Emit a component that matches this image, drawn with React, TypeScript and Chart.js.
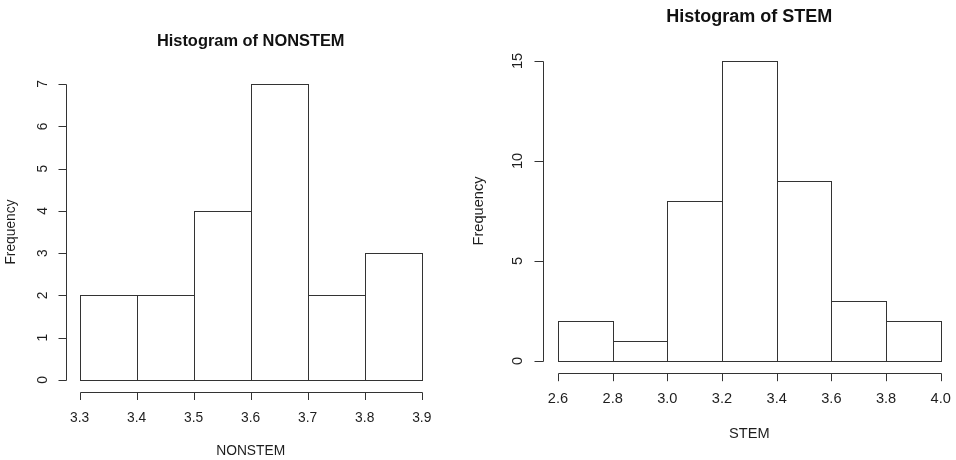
import React, { useEffect, useRef } from 'react';
import { Chart, registerables } from 'chart.js';

Chart.register(...registerables);

const FONT = '"Liberation Sans", Arial, Helvetica, sans-serif';
const LINE = '#333333';
const TEXT = '#1e1e1e';

// ---- NONSTEM histogram ----
const nonstemBreaks = [3.3, 3.4, 3.5, 3.6, 3.7, 3.8, 3.9];
const nonstemCounts = [2, 2, 4, 7, 2, 3];
const nonstemXLabels = ['3.3', '3.4', '3.5', '3.6', '3.7', '3.8', '3.9'];
const nonstemYTicks = [0, 1, 2, 3, 4, 5, 6, 7];
const nonstemYLabels = ['0', '1', '2', '3', '4', '5', '6', '7'];

// ---- STEM histogram ----
const stemBreaks = [2.6, 2.8, 3.0, 3.2, 3.4, 3.6, 3.8, 4.0];
const stemCounts = [2, 1, 8, 15, 9, 3, 2];
const stemXLabels = ['2.6', '2.8', '3.0', '3.2', '3.4', '3.6', '3.8', '4.0'];
const stemYTicks = [0, 5, 10, 15];
const stemYLabels = ['0', '5', '10', '15'];

type PanelCfg = {
  left: number;
  width: number;
  padding: { left: number; right: number; top: number; bottom: number };
  title: string;
  xTitle: string;
  yTitle: string;
  breaks: number[];
  counts: number[];
  xLabels: string[];
  yTicks: number[];
  yLabels: string[];
  fontSize: number;
  titleSize: number;
  titleBaseline: number;
  xTickLen: number;
  xLabelGap: number;
  xTitleGap: number;
  yTickLen: number;
  yLabelGap: number;
  yTitleGap: number;
};

const rStylePlugin = {
  id: 'rStyle',
  afterDatasetsDraw(chart: any) {
    const { ctx } = chart;
    ctx.save();
    ctx.strokeStyle = LINE;
    ctx.lineWidth = 1;
    const meta = chart.getDatasetMeta(0);
    meta.data.forEach((bar: any) => {
      const { x, y, base, width } = bar.getProps(['x', 'y', 'base', 'width'], true);
      const l = Math.round(x - width / 2) + 0.5;
      const r = Math.round(x + width / 2) + 0.5;
      const t = Math.round(y) + 0.5;
      const b = Math.round(base) + 0.5;
      ctx.strokeRect(l, t, r - l, b - t);
    });
    ctx.restore();
  },
  afterDraw(chart: any, _args: any, o: any) {
    const { ctx, chartArea: a } = chart;
    const xs = chart.scales.x;
    const ys = chart.scales.y;
    ctx.save();
    ctx.strokeStyle = LINE;
    ctx.lineWidth = 1;
    ctx.fillStyle = TEXT;

    // x axis
    const ax = Math.round(a.bottom) + 0.5;
    const xPix = o.breaks.map((v: number) => Math.round(xs.getPixelForValue(v)) + 0.5);
    ctx.beginPath();
    ctx.moveTo(xPix[0], ax);
    ctx.lineTo(xPix[xPix.length - 1], ax);
    xPix.forEach((p: number) => {
      ctx.moveTo(p, ax);
      ctx.lineTo(p, ax + o.xTickLen);
    });
    ctx.stroke();
    ctx.font = `${o.fontSize}px ${FONT}`;
    ctx.textAlign = 'center';
    ctx.textBaseline = 'alphabetic';
    o.xLabels.forEach((lab: string, i: number) => {
      ctx.fillText(lab, xs.getPixelForValue(o.breaks[i]), a.bottom + o.xLabelGap);
    });

    // y axis
    const ay = Math.round(a.left) + 0.5;
    const yPix = o.yTicks.map((v: number) => Math.round(ys.getPixelForValue(v)) + 0.5);
    ctx.beginPath();
    ctx.moveTo(ay, yPix[0]);
    ctx.lineTo(ay, yPix[yPix.length - 1]);
    yPix.forEach((p: number) => {
      ctx.moveTo(ay, p);
      ctx.lineTo(ay - o.yTickLen, p);
    });
    ctx.stroke();
    o.yLabels.forEach((lab: string, i: number) => {
      ctx.save();
      ctx.translate(a.left - o.yLabelGap, ys.getPixelForValue(o.yTicks[i]));
      ctx.rotate(-Math.PI / 2);
      ctx.fillText(lab, 0, 0);
      ctx.restore();
    });

    // axis titles
    ctx.fillText(o.xTitle, (a.left + a.right) / 2, a.bottom + o.xTitleGap);
    ctx.save();
    ctx.translate(a.left - o.yTitleGap, (a.top + a.bottom) / 2);
    ctx.rotate(-Math.PI / 2);
    ctx.fillText(o.yTitle, 0, 0);
    ctx.restore();

    // main title
    ctx.font = `bold ${o.titleSize}px ${FONT}`;
    ctx.fillStyle = '#111';
    ctx.fillText(o.title, (a.left + a.right) / 2, o.titleBaseline);
    ctx.restore();
  },
};

function HistPanel({ cfg }: { cfg: PanelCfg }) {
  const ref = useRef<HTMLCanvasElement>(null);
  useEffect(() => {
    const br = cfg.breaks;
    const xr = br[br.length - 1] - br[0];
    const yMax = cfg.yTicks[cfg.yTicks.length - 1];
    const points = cfg.counts.map((c, i) => ({ x: (br[i] + br[i + 1]) / 2, y: c }));
    const chart = new Chart(ref.current as HTMLCanvasElement, {
      type: 'bar',
      data: {
        datasets: [
          {
            data: points as any,
            backgroundColor: '#ffffff',
            borderWidth: 0,
            barPercentage: 1,
            categoryPercentage: 1,
          },
        ],
      },
      options: {
        animation: false,
        responsive: false,
        events: [],
        layout: { padding: cfg.padding },
        plugins: {
          legend: { display: false },
          tooltip: { enabled: false },
          title: { display: false },
          rStyle: cfg as any,
        } as any,
        scales: {
          x: {
            type: 'linear',
            display: false,
            offset: false,
            min: br[0] - 0.04 * xr,
            max: br[br.length - 1] + 0.04 * xr,
            afterBuildTicks: (s: any) => {
              s.ticks = br.map((v) => ({ value: v }));
            },
          },
          y: {
            type: 'linear',
            display: false,
            min: -0.04 * yMax,
            max: yMax * 1.04,
          },
        },
      },
      plugins: [rStylePlugin as any],
    });
    return () => chart.destroy();
  }, [cfg]);
  return (
    <canvas
      ref={ref}
      width={cfg.width}
      height={460}
      style={{ position: 'absolute', left: cfg.left, top: 0, width: cfg.width, height: 460 }}
    />
  );
}

const leftCfg: PanelCfg = {
  left: 0,
  width: 470,
  padding: { left: 66, right: 34.6, top: 72.2, bottom: 68.2 },
  title: 'Histogram of NONSTEM',
  xTitle: 'NONSTEM',
  yTitle: 'Frequency',
  breaks: nonstemBreaks,
  counts: nonstemCounts,
  xLabels: nonstemXLabels,
  yTicks: nonstemYTicks,
  yLabels: nonstemYLabels,
  fontSize: 13.8,
  titleSize: 16.4,
  titleBaseline: 45.7,
  xTickLen: 7.5,
  xLabelGap: 29.7,
  xTitleGap: 63,
  yTickLen: 8,
  yLabelGap: 19.5,
  yTitleGap: 51,
};

const rightCfg: PanelCfg = {
  left: 470,
  width: 486,
  padding: { left: 72.7, right: 0, top: 49, bottom: 87 },
  title: 'Histogram of STEM',
  xTitle: 'STEM',
  yTitle: 'Frequency',
  breaks: stemBreaks,
  counts: stemCounts,
  xLabels: stemXLabels,
  yTicks: stemYTicks,
  yLabels: stemYLabels,
  fontSize: 14.6,
  titleSize: 18,
  titleBaseline: 21.7,
  xTickLen: 7.7,
  xLabelGap: 30,
  xTitleGap: 64.5,
  yTickLen: 9,
  yLabelGap: 20.7,
  yTitleGap: 59.4,
};

export default function App() {
  return (
    <div
      style={{
        position: 'absolute',
        left: 0,
        top: 0,
        width: 956,
        height: 460,
        background: '#ffffff',
        overflow: 'hidden',
      }}
    >
      <HistPanel cfg={leftCfg} />
      <HistPanel cfg={rightCfg} />
    </div>
  );
}
